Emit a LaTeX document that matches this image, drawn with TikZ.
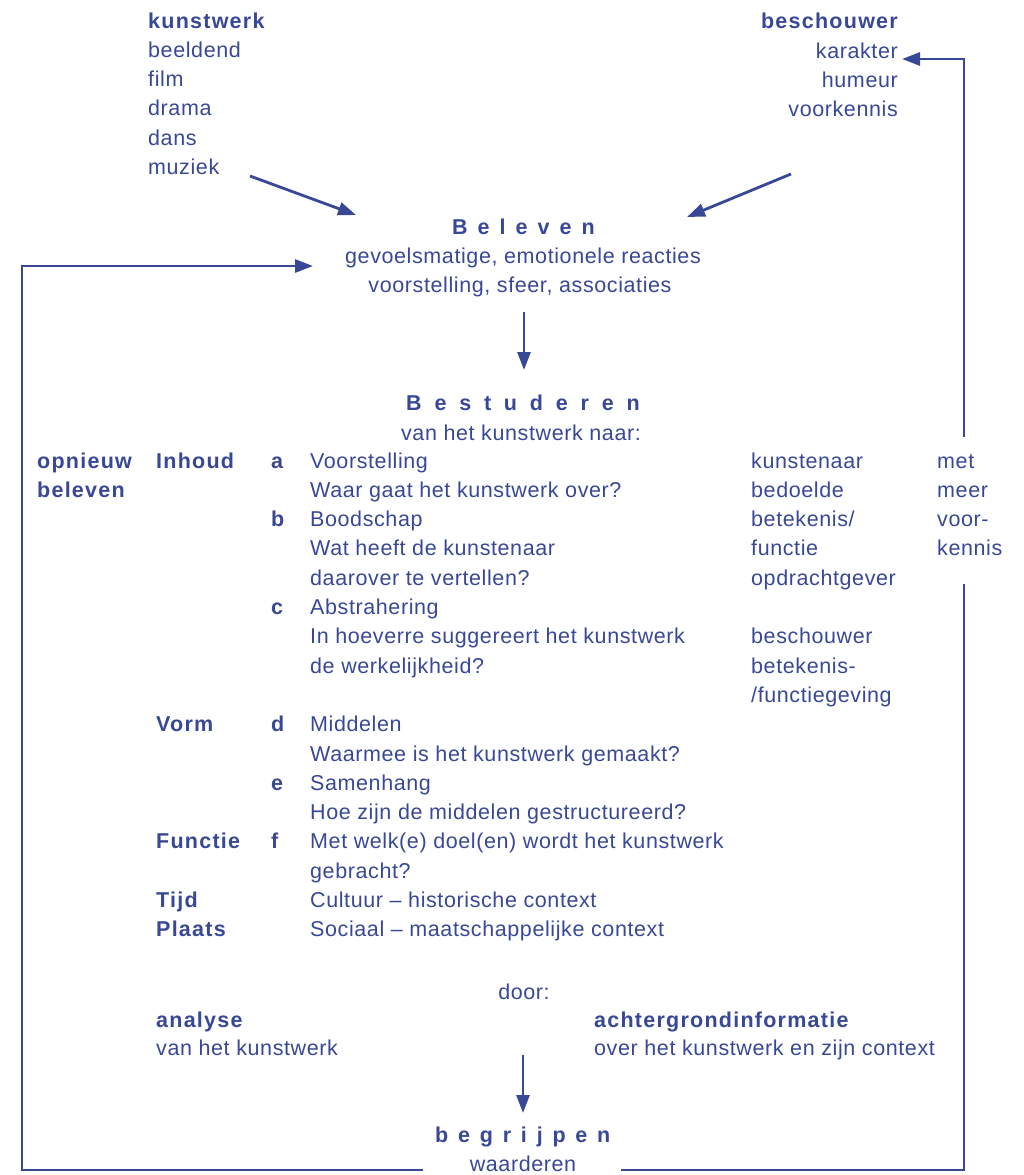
\documentclass[tikz,border=0pt]{standalone}
\usepackage{fontspec}
\setmainfont{Liberation Sans}[LetterSpace=2.8,BoldFeatures={LetterSpace=5.8}]
\usetikzlibrary{arrows.meta}
\definecolor{ink}{RGB}{56,72,150}
\newcommand\fsz{\fontsize{21.5}{26}\selectfont}
\newcommand\hk[1]{\kern#1pt}
\begin{document}
\begin{tikzpicture}[x=1pt,y=-1pt,
  txt/.style={inner sep=0pt, anchor=base west, text=ink, font=\fsz},
  rtxt/.style={txt, anchor=base east},
  ctxt/.style={txt, anchor=base},
  btxt/.style={txt, font=\fsz\bfseries},
  rbtxt/.style={rtxt, font=\fsz\bfseries},
  ln/.style={draw=ink, line width=2.8pt},
  arr/.style={ln, -{Triangle[length=18pt,width=13pt]}}]
\useasboundingbox (0,0) rectangle (1023,1175);
% top left
\node[btxt] (kw) at (148,28) {kunstwerk};
\node[txt] (kw1) at (148,57) {beeldend};
\node[txt] (kw2) at (148,86.5) {film};
\node[txt] (kw3) at (148,115.5) {drama};
\node[txt] (kw4) at (148,145) {dans};
\node[txt] (kw5) at (148,174) {muziek};
% top right
\node[rbtxt] (bs) at (898,28) {beschouwer};
\node[rtxt] (bs1) at (898,58) {karakter};
\node[rtxt] (bs2) at (898,87) {humeur};
\node[rtxt] (bs3) at (898,116) {voorkennis};
% Beleven
\node[btxt] (bel) at (452,234) {B\hk{10}e\hk{10}l\hk{10}e\hk{10}v\hk{10}e\hk{10}n};
\node[ctxt] (bel1) at (523,263) {gevoelsmatige, emotionele reacties};
\node[ctxt] (bel2) at (520,292) {voorstelling, sfeer, associaties};
% Bestuderen
\node[btxt] (bst) at (406,410) {B\hk{12.8}e\hk{12.8}s\hk{12.8}t\hk{12.8}u\hk{12.8}d\hk{12.8}e\hk{12.8}r\hk{12.8}e\hk{12.8}n};
\node[ctxt] (bst1) at (521,440) {van het kunstwerk naar:};
% middle block
\def\rb#1{468+29.3*#1}
\node[btxt] (op1) at (37,{\rb{0}}) {opnieuw};
\node[btxt] (op2) at (37,{\rb{1}}) {beleven};
\node[btxt] (c1) at (156,{\rb{0}}) {Inhoud};
\node[btxt] (c2) at (156,{\rb{9}}) {Vorm};
\node[btxt] (c3) at (156,{\rb{13}}) {Functie};
\node[btxt] (c4) at (156,{\rb{15}}) {Tijd};
\node[btxt] (c5) at (156,{\rb{16}}) {Plaats};
\node[btxt] (la) at (271,{\rb{0}}) {a};
\node[btxt] (lb) at (271,{\rb{2}}) {b};
\node[btxt] (lc) at (271,{\rb{5}}) {c};
\node[btxt] (ld) at (271,{\rb{9}}) {d};
\node[btxt] (le) at (271,{\rb{11}}) {e};
\node[btxt] (lf) at (271,{\rb{13}}) {f};
\node[txt] (t0) at (310,{\rb{0}}) {Voorstelling};
\node[txt] (t1) at (310,{\rb{1}}) {Waar gaat het kunstwerk over?};
\node[txt] (t2) at (310,{\rb{2}}) {Boodschap};
\node[txt] (t3) at (310,{\rb{3}}) {Wat heeft de kunstenaar};
\node[txt] (t4) at (310,{\rb{4}}) {daarover te vertellen?};
\node[txt] (t5) at (310,{\rb{5}}) {Abstrahering};
\node[txt] (t6) at (310,{\rb{6}}) {In hoeverre suggereert het kunstwerk};
\node[txt] (t7) at (310,{\rb{7}}) {de werkelijkheid?};
\node[txt] (t9) at (310,{\rb{9}}) {Middelen};
\node[txt] (t10) at (310,{\rb{10}}) {Waarmee is het kunstwerk gemaakt?};
\node[txt] (t11) at (310,{\rb{11}}) {Samenhang};
\node[txt] (t12) at (310,{\rb{12}}) {Hoe zijn de middelen gestructureerd?};
\node[txt] (t13) at (310,{\rb{13}}) {Met welk(e) doel(en) wordt het kunstwerk};
\node[txt] (t14) at (310,{\rb{14}}) {gebracht?};
\node[txt] (t15) at (310,{\rb{15}}) {Cultuur – historische context};
\node[txt] (t16) at (310,{\rb{16}}) {Sociaal – maatschappelijke context};
\node[txt] (k0) at (751,{\rb{0}}) {kunstenaar};
\node[txt] (k1) at (751,{\rb{1}}) {bedoelde};
\node[txt] (k2) at (751,{\rb{2}}) {betekenis/};
\node[txt] (k3) at (751,{\rb{3}}) {functie};
\node[txt] (k4) at (751,{\rb{4}}) {opdrachtgever};
\node[txt] (k6) at (751,{\rb{6}}) {beschouwer};
\node[txt] (k7) at (751,{\rb{7}}) {betekenis-};
\node[txt] (k8) at (751,{\rb{8}}) {/functiegeving};
\node[txt] (m0) at (937,{\rb{0}}) {met};
\node[txt] (m1) at (937,{\rb{1}}) {meer};
\node[txt] (m2) at (937,{\rb{2}}) {voor-};
\node[txt] (m3) at (937,{\rb{3}}) {kennis};
% bottom
\node[ctxt] (door) at (524,999) {door:};
\node[btxt] (an) at (156,1027) {analyse};
\node[txt] (an1) at (156,1055) {van het kunstwerk};
\node[btxt] (ag) at (594,1027) {achtergrondinformatie};
\node[txt] (ag1) at (594,1055) {over het kunstwerk en zijn context};
\node[btxt] (beg) at (435,1142) {b\hk{9.8}e\hk{9.8}g\hk{9.8}r\hk{9.8}i\hk{9.8}j\hk{9.8}p\hk{9.8}e\hk{9.8}n};
\node[ctxt] (wa) at (523,1171) {waarderen};
% connector coordinates
\coordinate (a1s) at (250,176); \coordinate (a1e) at (356,215);
\coordinate (a2s) at (791,174); \coordinate (a2e) at (687,217);
\coordinate (a3s) at (524,312); \coordinate (a3e) at (524,370);
\coordinate (a4s) at (523,1055); \coordinate (a4e) at (523,1113);
\coordinate (lbs) at (423,1170); \coordinate (lcorner) at (22,1170);
\coordinate (ltip) at (313,266);
\coordinate (rbs) at (621,1170); \coordinate (rcorner) at (964,1170);
\coordinate (rmid) at (964,584);
\coordinate (rtop) at (964,437); \coordinate (rtip) at (902,59);
% connectors
\draw[arr] (a1s) -- (a1e);
\draw[arr] (a2s) -- (a2e);
\draw[arr] (a3s) -- (a3e);
\draw[arr] (a4s) -- (a4e);
\draw[arr] (lbs) -- (lcorner) |- (ltip);
\draw[ln] (rbs) -- (rcorner) -- (rmid);
\draw[arr] (rtop) |- (rtip);
\end{tikzpicture}
\end{document}
